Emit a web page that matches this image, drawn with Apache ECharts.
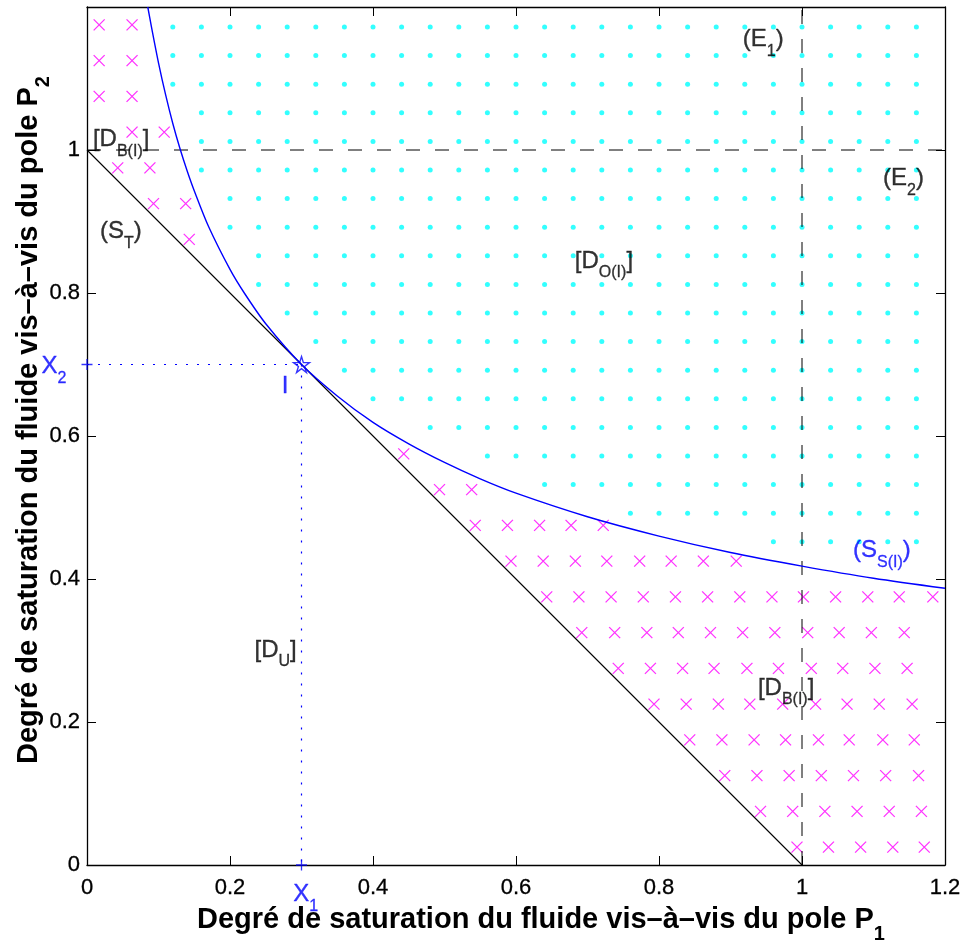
<!DOCTYPE html>
<html><head><meta charset="utf-8">
<script src="https://cdn.jsdelivr.net/npm/echarts@6/dist/echarts.min.js"></script>
<style>html,body{margin:0;padding:0;background:#fff}#c{width:964px;height:941px}</style>
</head><body><div id="c"></div>
<script>
// ---- data ----
const xTicks = [0, 0.2, 0.4, 0.6, 0.8, 1, 1.2];
const yTicks = [0, 0.2, 0.4, 0.6, 0.8, 1];
const lineST = [[0, 1], [1, 0]];                 // (S_T): x1 + x2 = 1
const curveX = [0.085, 0.09, 0.1, 0.11, 0.12, 0.13, 0.14, 0.15, 0.17, 0.2, 0.22, 0.25, 0.3, 0.35, 0.4, 0.45, 0.5, 0.55, 0.6, 0.7, 0.8, 0.9, 1.0, 1.1, 1.2];
const curveY = [1.200, 1.173, 1.122, 1.077, 1.037, 1.002, 0.971, 0.943, 0.893, 0.833, 0.800, 0.757, 0.700, 0.656, 0.619, 0.589, 0.563, 0.540, 0.520, 0.487, 0.460, 0.437, 0.418, 0.401, 0.387];
const pointI = [0.3, 0.7];
const refE1 = 1;   // vertical dashed x = 1
const refE2 = 1;   // horizontal dashed y = 1
const cyanCols = [0.04,0.08,0.12,0.16,0.20,0.24,0.28,0.32,0.36,0.40,0.44,0.48,0.52,0.56,0.60,0.64,0.68,0.72,0.76,0.80,0.84,0.88,0.92,0.96,1.00,1.04,1.08,1.12,1.16];
const cyanRows = [0.452,0.492,0.532,0.572,0.612,0.652,0.692,0.732,0.772,0.812,0.852,0.892,0.932,0.972,1.012,1.052,1.092,1.132,1.172];
const cyanRowStart = [0.96,0.76,0.64,0.56,0.48,0.40,0.36,0.32,0.28,0.24,0.24,0.20,0.20,0.16,0.16,0.16,0.12,0.12,0.12];
const magentaRowY = [1.175,1.125,1.075,1.025,0.975,0.925,0.875,0.575,0.525,0.475,0.425,0.375,0.325,0.275,0.225,0.175,0.125,0.075,0.025];
const magentaRowX = [
  [0.017,0.063],
  [0.017,0.063],
  [0.017,0.063],
  [0.063,0.108],
  [0.043,0.088],
  [0.093,0.138],
  [0.143],
  [0.443],
  [0.493,0.538],
  [0.543,0.588,0.633,0.677,0.722],
  [0.593,0.638,0.683,0.727,0.773,0.817,0.862,0.908],
  [0.643,0.688,0.733,0.778,0.823,0.868,0.913,0.958,1.002,1.047,1.092,1.136,1.183],
  [0.692,0.738,0.783,0.827,0.872,0.917,0.962,1.008,1.052,1.097,1.143],
  [0.743,0.788,0.833,0.877,0.923,0.967,1.013,1.057,1.102,1.147],
  [0.793,0.838,0.883,0.927,0.973,1.019,1.063,1.108,1.154],
  [0.843,0.888,0.933,0.977,1.023,1.066,1.113,1.157],
  [0.892,0.937,0.982,1.027,1.072,1.117,1.163],
  [0.942,0.987,1.032,1.077,1.122,1.167],
  [0.993,1.037,1.082,1.127,1.171]
];
// annotation texts: [main, subscript, tail], anchor (left, middle of main text) in data units
const annTexts = [['(E','1',')'],['(E','2',')'],['[D','B(I)',']'],['(S','T',')'],['[D','O(I)',']'],['X','2',''],['I','',''],['(S','S(I)',')'],['[D','U',']'],['[D','B(I)',']'],['X','1','']];
const annX = [0.918, 1.114, 0.009, 0.019, 0.683, -0.063, 0.273, 1.072, 0.235, 0.939, 0.289];
const annY = [1.154, 0.960, 1.014, 0.885, 0.844, 0.697, 0.669, 0.439, 0.300, 0.247, -0.042];
const annBlue = [false,false,false,false,false,true,true,true,false,false,true];
const xTitle = ['Degré de saturation du fluide vis–à–vis du pole P', '1'];
const yTitle = ['Degré de saturation du fluide vis–à–vis du pole P', '2'];

// ---- build ----
const BLUE = '#0000FF';
const FONT = 'Liberation Sans, Arial, Helvetica, sans-serif';
const cyanData = [];
cyanRows.forEach((r, i) => cyanCols.forEach(c => { if (c >= cyanRowStart[i] - 1e-9) cyanData.push([c, r]); }));
const magData = [];
magentaRowY.forEach((r, i) => magentaRowX[i].forEach(x => magData.push([x, r])));
const curveData = curveX.map((x, i) => [x, curveY[i]]);

const starPath = 'path://M10,0L12.245,6.91L19.511,6.91L13.633,11.18L15.878,18.09L10,13.82L4.122,18.09L6.367,11.18L0.489,6.91L7.755,6.91Z';
function richFor(col) {
  return {
    m: { fontSize: 24, fontFamily: FONT, lineHeight: 24, color: col, textBorderColor: col, textBorderWidth: 0.35 },
    s: { fontSize: 16, fontFamily: FONT, lineHeight: 16, padding: [24, 0, 0, 0], color: col, textBorderColor: col, textBorderWidth: 0.3 }
  };
}
function richText(t) {
  let s = '{m|' + t[0] + '}';
  if (t[1]) s += '{s|' + t[1] + '}';
  if (t[2]) s += '{m|' + t[2] + '}';
  return s;
}
const annData = annTexts.map((t, i) => {
  const col = annBlue[i] ? BLUE : '#000';
  return { value: [annX[i], annY[i]], t, label: { color: col, rich: richFor(col) } };
});
const axisCommon = {
  type: 'value', min: 0, max: 1.2, interval: 0.2,
  axisLine: { show: true, onZero: false, lineStyle: { color: '#000', width: 1.3 } },
  axisTick: { show: true, inside: true, length: 9, lineStyle: { color: '#000', width: 1 } },
  splitLine: { show: false }
};
const labelStyle = { color: '#000', fontSize: 22, fontFamily: FONT, textBorderColor: '#000', textBorderWidth: 0.3 };

const chart = echarts.init(document.getElementById('c'), null, { renderer: 'canvas' });
chart.setOption({
  animation: false,
  backgroundColor: '#fff',
  grid: { left: 87, right: 19, top: 7, bottom: 76 },
  xAxis: [
    Object.assign({}, axisCommon, { position: 'bottom', axisLabel: Object.assign({ margin: 12, formatter: v => xTicks.includes(+v.toFixed(2)) ? String(+v.toFixed(2)) : '' }, labelStyle) }),
    Object.assign({}, axisCommon, { position: 'top', axisLabel: { show: false } })
  ],
  yAxis: [
    Object.assign({}, axisCommon, { position: 'left', axisLabel: Object.assign({ margin: 7, formatter: v => yTicks.includes(+v.toFixed(2)) ? String(+v.toFixed(2)) : '' }, labelStyle) }),
    Object.assign({}, axisCommon, { position: 'right', axisLabel: { show: false } })
  ],
  series: [
    { type: 'scatter', data: cyanData, symbol: 'circle', symbolSize: 5, itemStyle: { color: '#00FFFF' }, z: 2, silent: true },
    { type: 'scatter', data: magData, symbol: 'path://M0,0L10,10M10,0L0,10', symbolSize: 11,
      itemStyle: { color: 'none', borderColor: '#FF00FF', borderWidth: 1.3 }, z: 2, silent: true },
    { type: 'line', data: [[refE1, 0], [refE1, 1.2]], symbol: 'none', lineStyle: { color: '#000', width: 1, type: [14, 15] }, z: 3 },
    { type: 'line', data: [[0, refE2], [1.2, refE2]], symbol: 'none', lineStyle: { color: '#000', width: 1, type: [14, 15] }, z: 3 },
    { type: 'line', data: lineST, symbol: 'none', lineStyle: { color: '#000', width: 1.1 }, z: 4 },
    { type: 'line', data: curveData, symbol: 'none', smooth: 0.3, lineStyle: { color: BLUE, width: 1.4 }, z: 4 },
    { type: 'line', data: [[0, pointI[1]], pointI], symbol: 'none', lineStyle: { color: BLUE, width: 1.2, type: [2, 9] }, z: 4 },
    { type: 'line', data: [pointI, [pointI[0], 0]], symbol: 'none', lineStyle: { color: BLUE, width: 1.2, type: [2, 9] }, z: 4 },
    { type: 'scatter', data: [pointI], symbol: starPath, symbolSize: 16, clip: false,
      itemStyle: { color: 'none', borderColor: BLUE, borderWidth: 1.4 }, z: 6 },
    { type: 'scatter', data: [[0, pointI[1]], [pointI[0], 0]], symbol: 'path://M5,0L5,10M0,5L10,5', symbolSize: 11, clip: false,
      itemStyle: { color: 'none', borderColor: BLUE, borderWidth: 1.3 }, z: 6 },
    { type: 'scatter', data: annData, symbol: 'circle', symbolSize: 1, clip: false, silent: true,
      itemStyle: { color: 'rgba(0,0,0,0)' }, z: 8,
      label: { show: true, position: [0, 0], align: 'left', verticalAlign: 'middle',
        formatter: p => richText(p.data.t), rich: richFor('#000'), color: '#000' }
    }
  ],
  graphic: [
    { type: 'text', x: 541, y: 920, z: 10, style: {
        text: '{m|' + xTitle[0] + '}{s|' + xTitle[1] + '}', align: 'center', verticalAlign: 'middle',
        rich: { m: { fontSize: 29, fontWeight: 'bold', fontFamily: FONT, lineHeight: 29, fill: '#000' },
                s: { fontSize: 20, fontWeight: 'bold', fontFamily: FONT, lineHeight: 20, padding: [28, 0, 0, 0], fill: '#000' } } } },
    { type: 'text', x: 29, y: 420, rotation: Math.PI / 2, z: 10, style: {
        text: '{m|' + yTitle[0] + '}{s|' + yTitle[1] + '}', align: 'center', verticalAlign: 'middle',
        rich: { m: { fontSize: 29, fontWeight: 'bold', fontFamily: FONT, lineHeight: 29, fill: '#000' },
                s: { fontSize: 20, fontWeight: 'bold', fontFamily: FONT, lineHeight: 20, padding: [28, 0, 0, 0], fill: '#000' } } } }
  ]
});
</script></body></html>
